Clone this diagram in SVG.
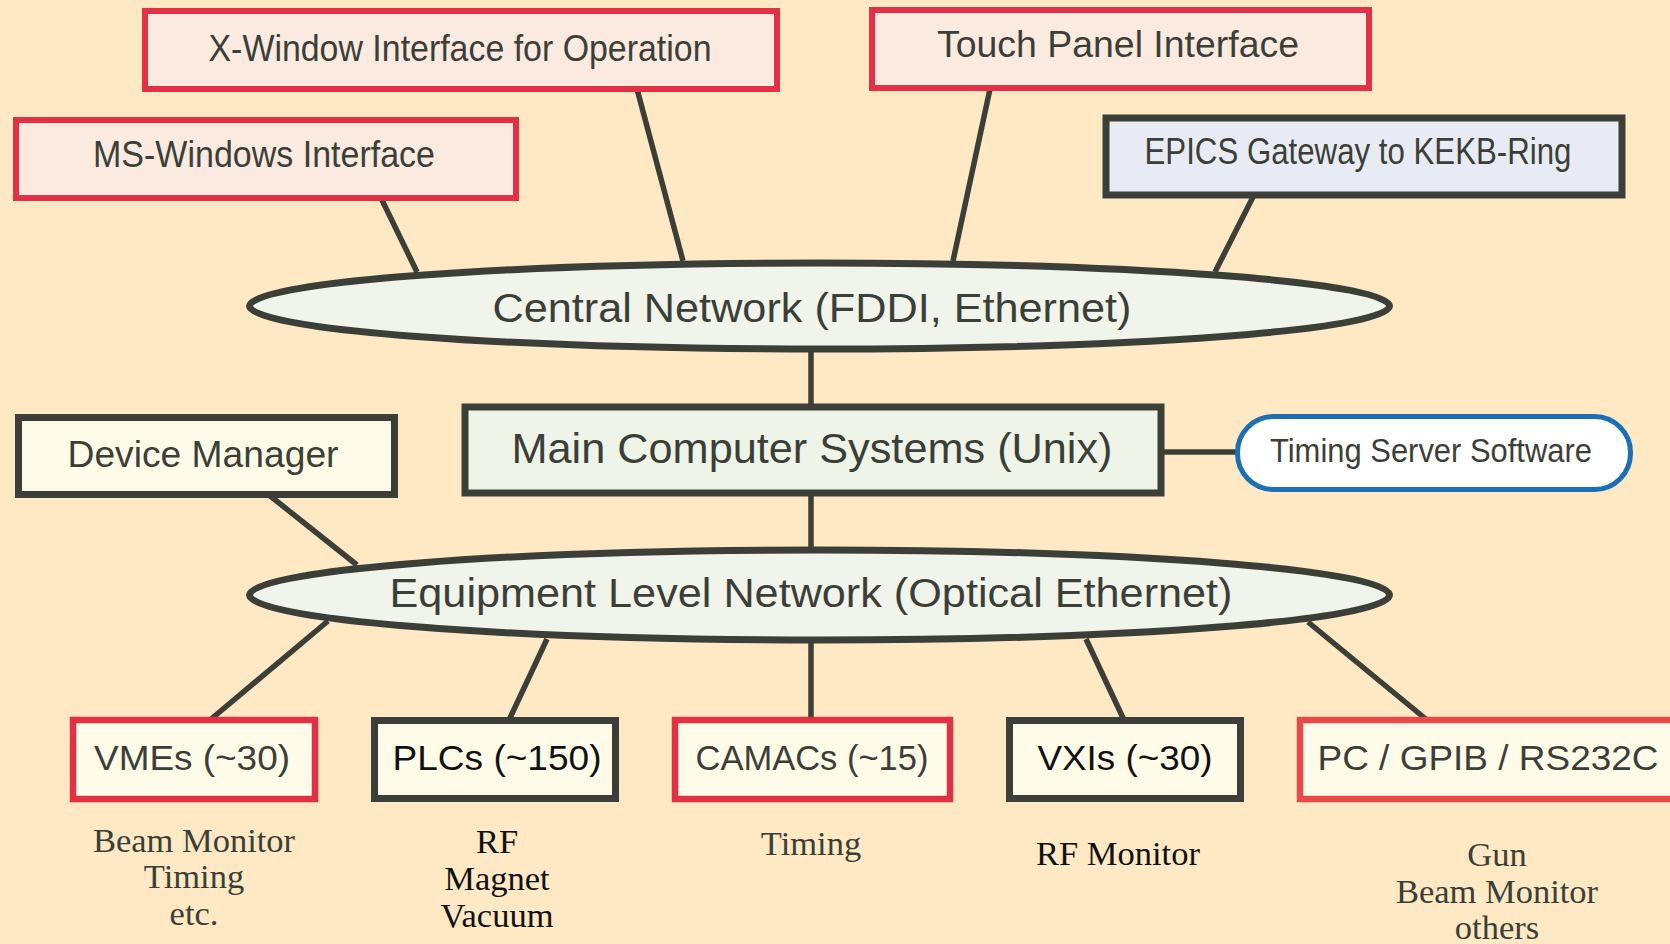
<svg xmlns="http://www.w3.org/2000/svg" width="1670" height="944" viewBox="0 0 1670 944">
<style>
.bg{fill:#fee9c4}
.pink{fill:#fbeae0;stroke:#e23044;stroke-width:6}
.red{fill:#fffbe9;stroke:#e23044;stroke-width:6.5}
.red2{fill:#fffbe9;stroke:#e84a4a;stroke-width:6.5}
.dark{fill:#fffbe9;stroke:#3c3f37;stroke-width:7}
.main{fill:#eff4e9;stroke:#3c3f37;stroke-width:7}
.epics{fill:#e8ebf3;stroke:#3c3f37;stroke-width:7}
.net{fill:#f0f4ea;stroke:#3c3f37;stroke-width:7}
.timing{fill:#ffffff;stroke:#1a6fb5;stroke-width:5}
.conn line{stroke:#3c3f37;stroke-width:5.5;stroke-linecap:butt}
.t{font-family:"Liberation Sans",Arial,sans-serif;fill:#3c3f37;text-anchor:middle}
.k{fill:#111111}
.s{font-family:"Liberation Serif","Times New Roman",serif;font-size:34.5px;fill:#3c3f37;text-anchor:middle}
.sk{fill:#111111}
</style>
<rect class="bg" x="0" y="0" width="1670" height="944"/>
<g id="connectors" class="conn">
<line x1="381" y1="198" x2="417" y2="272"/>
<line x1="637" y1="89" x2="683" y2="261"/>
<line x1="990" y1="89" x2="953" y2="261"/>
<line x1="1254" y1="195" x2="1215" y2="272"/>
<line x1="811" y1="352" x2="811" y2="406"/>
<line x1="1161" y1="452" x2="1237" y2="452"/>
<line x1="811" y1="493" x2="811" y2="551"/>
<line x1="269" y1="495" x2="357" y2="565"/>
<line x1="328" y1="621" x2="210" y2="720"/>
<line x1="547" y1="639" x2="509" y2="720"/>
<line x1="811" y1="641" x2="811" y2="720"/>
<line x1="1086" y1="639" x2="1124" y2="720"/>
<line x1="1308" y1="622" x2="1427" y2="720"/>
</g>
<g id="xwindow">
<rect class="pink" x="145" y="11" width="632" height="78"/>
<text class="t" x="460" y="61" font-size="36" textLength="503" lengthAdjust="spacingAndGlyphs">X-Window Interface for Operation</text>
</g>
<g id="touch">
<rect class="pink" x="872" y="10" width="497" height="78"/>
<text class="t" x="1118" y="57" font-size="36" textLength="362" lengthAdjust="spacingAndGlyphs">Touch Panel Interface</text>
</g>
<g id="mswindows">
<rect class="pink" x="16" y="120" width="500" height="78"/>
<text class="t" x="264" y="167" font-size="36" textLength="342" lengthAdjust="spacingAndGlyphs">MS-Windows Interface</text>
</g>
<g id="epics">
<rect class="epics" x="1106" y="118" width="516" height="77"/>
<text class="t" x="1358" y="164" font-size="36" textLength="427" lengthAdjust="spacingAndGlyphs">EPICS Gateway to KEKB-Ring</text>
</g>
<g id="central">
<ellipse class="net" cx="819.5" cy="306" rx="570" ry="43"/>
<text class="t" x="812" y="322" font-size="41" textLength="639" lengthAdjust="spacingAndGlyphs">Central Network (FDDI, Ethernet)</text>
</g>
<g id="maincomp">
<rect class="main" x="465" y="407" width="696" height="86"/>
<text class="t" x="812" y="463" font-size="42" textLength="601" lengthAdjust="spacingAndGlyphs">Main Computer Systems (Unix)</text>
</g>
<g id="timingserver">
<rect class="timing" x="1237.5" y="416.5" width="393" height="73" rx="36" ry="36"/>
<text class="t" x="1431" y="462" font-size="33" textLength="322" lengthAdjust="spacingAndGlyphs">Timing Server Software</text>
</g>
<g id="devmgr">
<rect class="dark" x="18.5" y="417.5" width="376" height="77"/>
<text class="t" x="203" y="467" font-size="36" textLength="271" lengthAdjust="spacingAndGlyphs">Device Manager</text>
</g>
<g id="equipment">
<ellipse class="net" cx="819.5" cy="595" rx="570" ry="45"/>
<text class="t" x="811" y="607" font-size="40" textLength="843" lengthAdjust="spacingAndGlyphs">Equipment Level Network (Optical Ethernet)</text>
</g>
<g id="vmes">
<rect class="red" x="73" y="720" width="242" height="79"/>
<text class="t" x="192" y="770" font-size="35" textLength="196" lengthAdjust="spacingAndGlyphs">VMEs (~30)</text>
<text class="s" x="194" y="852">Beam Monitor</text>
<text class="s" x="194" y="888">Timing</text>
<text class="s" x="194" y="925">etc.</text>
</g>
<g id="plcs">
<rect class="dark" x="374.5" y="720.5" width="241" height="78"/>
<text class="t k" x="497" y="770" font-size="35" textLength="209" lengthAdjust="spacingAndGlyphs">PLCs (~150)</text>
<text class="s sk" x="497" y="853">RF</text>
<text class="s sk" x="497" y="890">Magnet</text>
<text class="s sk" x="497" y="927">Vacuum</text>
</g>
<g id="camacs">
<rect class="red" x="675" y="720" width="275" height="79"/>
<text class="t" x="812" y="770" font-size="35" textLength="233" lengthAdjust="spacingAndGlyphs">CAMACs (~15)</text>
<text class="s" x="811" y="855">Timing</text>
</g>
<g id="vxis">
<rect class="dark" x="1009.5" y="720.5" width="231" height="78"/>
<text class="t k" x="1125" y="770" font-size="35" textLength="175" lengthAdjust="spacingAndGlyphs">VXIs (~30)</text>
<text class="s sk" x="1118" y="865">RF Monitor</text>
</g>
<g id="pcgpib">
<rect class="red2" x="1300" y="720" width="400" height="79"/>
<text class="t" x="1488" y="770" font-size="35" textLength="341" lengthAdjust="spacingAndGlyphs">PC / GPIB / RS232C</text>
<text class="s" x="1497" y="866">Gun</text>
<text class="s" x="1497" y="903">Beam Monitor</text>
<text class="s" x="1497" y="939">others</text>
</g>
</svg>
